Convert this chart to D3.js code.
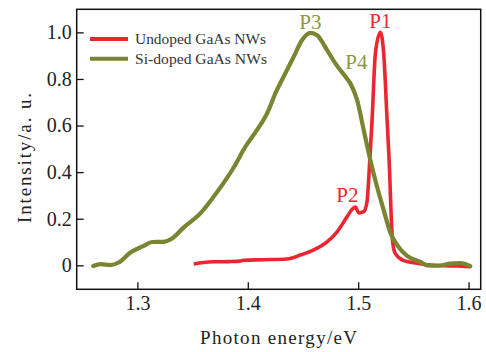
<!DOCTYPE html>
<html><head><meta charset="utf-8">
<script src="https://cdn.jsdelivr.net/npm/d3@7"></script>
<style>
html,body{margin:0;padding:0;background:#fff;}
svg{display:block;}
text{font-family:"Liberation Serif","Times New Roman",serif;}
</style></head>
<body>
<svg id="chart" width="486" height="352"></svg>
<script>
// ---- data ----
const seriesNames = ["Undoped GaAs NWs", "Si-doped GaAs NWs"];
const xTicks = [1.3, 1.4, 1.5, 1.6];
const yTicks = [0, 0.2, 0.4, 0.6, 0.8, 1.0];
const undopedX = [1.351,1.360,1.369,1.383,1.393,1.3963,1.415,1.4356,1.4476,1.4597,1.4718,1.4809,1.490,1.4944,1.4975,1.5005,1.505,1.508,1.5095,1.5105,1.5126,1.5156,1.5201,1.5231,1.5262,1.5285,1.5300,1.5315,1.5337,1.5413,1.5533,1.5654,1.5775,1.5896,1.6016];
const undopedY = [0.006,0.012,0.015,0.016,0.018,0.022,0.024,0.027,0.044,0.066,0.101,0.144,0.209,0.240,0.250,0.225,0.230,0.273,0.366,0.452,0.624,0.910,1.000,0.910,0.624,0.400,0.200,0.090,0.050,0.020,0.009,0.001,-0.002,-0.003,-0.006];
const siX = [1.260,1.2666,1.2755,1.283,1.2937,1.3057,1.3133,1.3238,1.3314,1.342,1.357,1.369,1.3812,1.3872,1.3978,1.4084,1.4175,1.425,1.434,1.4416,1.4492,1.4567,1.4628,1.4718,1.4793,1.4884,1.4929,1.499,1.505,1.511,1.5171,1.5231,1.5292,1.5352,1.5443,1.5563,1.5625,1.5715,1.5835,1.5926,1.6016];
const siY = [-0.003,0.005,0.001,0.012,0.055,0.083,0.100,0.101,0.115,0.163,0.223,0.294,0.375,0.420,0.509,0.581,0.652,0.738,0.824,0.895,0.967,0.998,0.988,0.924,0.867,0.810,0.781,0.710,0.581,0.452,0.337,0.237,0.140,0.088,0.040,0.015,0.000,-0.002,0.007,0.009,-0.004];
const peakLabels = ["P1","P2","P3","P4"];
const peakX = [1.5201,1.4975,1.4567,1.4930];
const peakY = [1.0,0.25,0.998,0.80];

// ---- layout ----
const L = 76.7, R = 480.7, T = 9.3, B = 289.3;
const red = "#ec2630", green = "#7b8431", greenText = "#8b983f";
const svg = d3.select("#chart");
const x = d3.scaleLinear().domain([1.245, 1.611]).range([L, R]);
const y = d3.scaleLinear().domain([-0.103, 1.099]).range([B, T]);

// frame
svg.append("rect").attr("x", L).attr("y", T).attr("width", R - L).attr("height", B - T)
  .attr("fill", "none").attr("stroke", "#111").attr("stroke-width", 1.5);

const xAxis = svg.append("g").attr("transform", `translate(0,${B})`)
  .call(d3.axisBottom(x).tickValues(xTicks).tickSize(-7).tickPadding(6.5).tickFormat(d3.format(".1f")));
const yAxis = svg.append("g").attr("transform", `translate(${L},0)`)
  .call(d3.axisLeft(y).tickValues(yTicks).tickSize(-7).tickPadding(5).tickFormat(d => d === 0 ? "0" : d.toFixed(1)));
[xAxis, yAxis].forEach(g => {
  g.select(".domain").remove();
  g.selectAll("line").attr("stroke", "#111").attr("stroke-width", 1.3);
  g.selectAll("text").attr("font-family", "Liberation Serif").attr("font-size", 20).attr("fill", "#222");
});

// titles
svg.append("text").attr("x", 200).attr("y", 344).attr("font-size", 19).attr("fill", "#222")
  .attr("textLength", 157).attr("lengthAdjust", "spacing").text("Photon  energy/eV");
svg.append("text").attr("transform", "translate(31,223) rotate(-90)").attr("font-size", 19).attr("fill", "#222")
  .attr("textLength", 130).attr("lengthAdjust", "spacing").text("Intensity/a. u.");

// lines
const line = d3.line().x(d => x(d[0])).y(d => y(d[1])).curve(d3.curveMonotoneX);
const siData = d3.zip(siX, siY);
const unData = d3.zip(undopedX, undopedY);
svg.append("path").datum(unData).attr("d", line).attr("fill", "none")
  .attr("stroke", red).attr("stroke-width", 3.6).attr("stroke-linejoin", "round");
svg.append("path").datum(siData).attr("d", line).attr("fill", "none")
  .attr("stroke", green).attr("stroke-width", 4.2).attr("stroke-linejoin", "round").attr("stroke-linecap", "round");

// peak labels
const peakColors = [red, red, greenText, greenText];
const peakDx = [0, -8, 0, 6];
const peakDy = [-4, -5.5, -4, -10];
peakLabels.forEach((p, i) => {
  svg.append("text").attr("x", x(peakX[i]) + peakDx[i]).attr("y", y(peakY[i]) + peakDy[i])
    .attr("text-anchor", "middle").attr("font-size", 21).attr("fill", peakColors[i]).text(p);
});

// legend
const legColors = [red, green];
const legLen = [131, 132];
seriesNames.forEach((n, i) => {
  const ly = 39 + i * 19.7;
  svg.append("line").attr("x1", 90).attr("x2", 128).attr("y1", ly).attr("y2", ly)
    .attr("stroke", legColors[i]).attr("stroke-width", 4);
  svg.append("text").attr("x", 135).attr("y", ly).attr("dy", "0.35em")
    .attr("font-size", 15).attr("fill", "#333")
    .attr("textLength", legLen[i]).attr("lengthAdjust", "spacingAndGlyphs").text(n);
});
</script>
</body></html>
